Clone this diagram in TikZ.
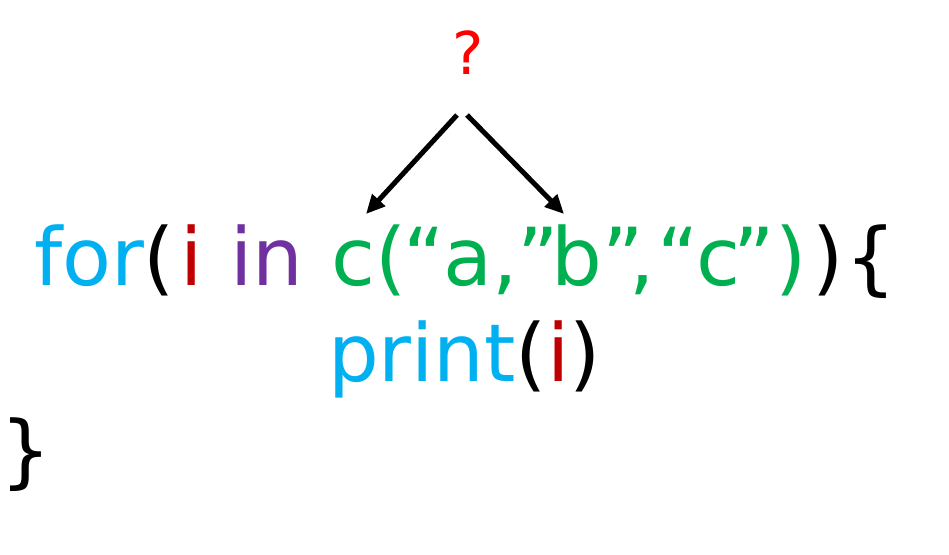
\documentclass[tikz,border=0pt]{standalone}
\usepackage{fontspec}
\setmainfont{DejaVu Sans}
\usetikzlibrary{arrows.meta}
\definecolor{kwblue}{HTML}{00B0F0}
\definecolor{varred}{HTML}{C00000}
\definecolor{inpurple}{HTML}{7030A0}
\definecolor{strgreen}{HTML}{00B050}
\definecolor{qred}{HTML}{FF0000}
\newcommand\tokat[3]{\rlap{\hskip#1pt\textcolor{#2}{#3}}}
\tikzset{
  code/.style={inner sep=0pt, outer sep=0pt, anchor=base west, font=\fontsize{80}{96}\selectfont},
  qmark/.style={inner sep=0pt, outer sep=0pt, anchor=base, text=qred, font=\fontsize{59}{70}\selectfont},
  pointer/.style={line width=5pt, -{Triangle[length=19pt,width=17pt]}}
}
\begin{document}
\begin{tikzpicture}[x=1pt,y=-1pt]
\useasboundingbox (0,0) rectangle (949,554);
\node[qmark] (q) at (468,74) {?};
\node[code] (line1) at (0,285) {%
\tokat{34}{kwblue}{for}%
\tokat{143}{black}{(}%
\tokat{179.5}{varred}{i}%
\tokat{229.5}{inpurple}{in}%
\tokat{330.6}{strgreen}{c}%
\tokat{375}{strgreen}{(}%
\tokat{403}{strgreen}{“}%
\tokat{443}{strgreen}{a}%
\tokat{492}{strgreen}{,}%
\tokat{517}{strgreen}{”}%
\tokat{551}{strgreen}{b}%
\tokat{602}{strgreen}{”}%
\tokat{629}{strgreen}{,}%
\tokat{657}{strgreen}{“}%
\tokat{695.6}{strgreen}{c}%
\tokat{733}{strgreen}{”}%
\tokat{775}{strgreen}{)}%
\tokat{812}{black}{)}%
\tokat{845}{black}{\{}%
\hspace{890pt}};
\node[code] (line2) at (328,381) {\color{kwblue}print\color{black}(\color{varred}i\color{black})};
\node[code] (line3) at (0,478) {\}};
\coordinate (l1s) at (457,115);
\coordinate (l1e) at (366,214);
\coordinate (r1s) at (467,115);
\coordinate (r1e) at (564,214);
\draw[pointer] (l1s) -- (l1e);
\draw[pointer] (r1s) -- (r1e);
\end{tikzpicture}
\end{document}
